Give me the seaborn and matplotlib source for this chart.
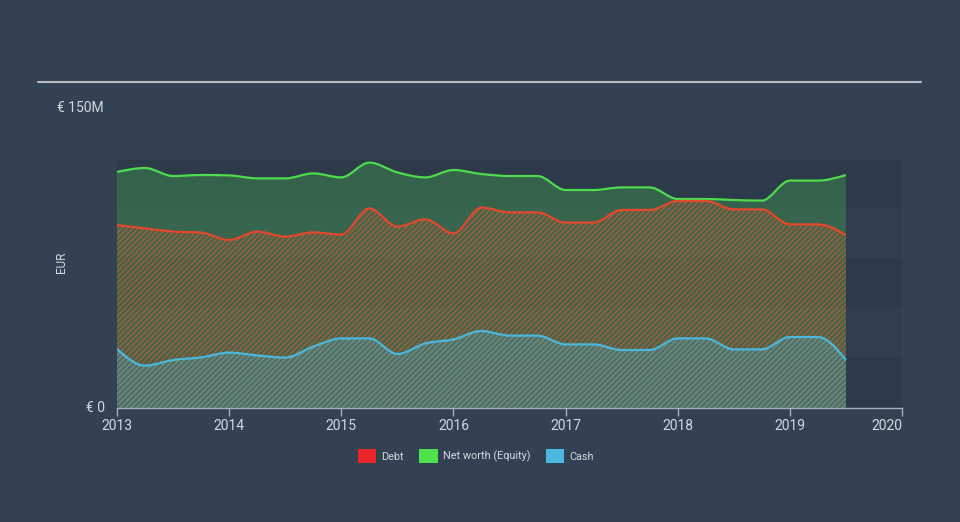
import numpy as np
import matplotlib
matplotlib.use('Agg')
import matplotlib.pyplot as plt
import seaborn as sns
from matplotlib.path import Path
from matplotlib.patches import PathPatch, Patch
from matplotlib.lines import Line2D
from matplotlib.transforms import blended_transform_factory

# Data (EUR millions), quarterly
dates = [2013.0, 2013.25, 2013.5, 2013.75, 2014.0, 2014.25, 2014.5, 2014.75,
         2015.0, 2015.25, 2015.5, 2015.75, 2016.0, 2016.25, 2016.5, 2016.75,
         2017.0, 2017.25, 2017.5, 2017.75, 2018.0, 2018.25, 2018.5, 2018.75,
         2019.0, 2019.25, 2019.5]
equity = [118.0, 120.0, 116.0, 116.5, 116.3, 114.8, 114.8, 117.3,
          115.3, 122.7, 117.8, 115.3, 119.0, 117.0, 116.0, 116.0,
          109.0, 109.0, 110.3, 110.3, 104.5, 104.5, 104.0, 103.7,
          113.7, 113.7, 116.5]
debt = [91.5, 89.8, 88.2, 87.7, 84.0, 88.2, 85.7, 87.8,
        86.7, 99.8, 90.7, 94.3, 87.3, 100.2, 97.8, 97.8,
        92.7, 92.7, 99.0, 99.0, 103.5, 103.5, 99.3, 99.3,
        91.8, 91.8, 86.5]
cash = [29.5, 21.2, 24.0, 25.3, 27.7, 26.3, 25.2, 30.7,
        34.8, 34.8, 27.0, 32.3, 34.3, 38.5, 36.2, 36.2,
        31.8, 31.8, 29.0, 29.0, 34.8, 34.8, 29.3, 29.3,
        35.5, 35.5, 24.0]
years = list(range(2013, 2021))
legend_labels = ['Debt', 'Net worth (Equity)', 'Cash']

BG = '#334253'
BAND_DARK = '#2d3a4a'
BAND_LIGHT = '#303e4f'
TXT = '#d3d8de'

sns.set_theme(style='dark', rc={'figure.facecolor': BG, 'axes.facecolor': BG,
                                'hatch.linewidth': 0.9})
plt.rcParams['font.family'] = ['Roboto', 'DejaVu Sans']


def monotone_path(x, y, close_to_zero=False):
    # cubic bezier segments like a monotone-x curve
    x = np.asarray(x, float)
    y = np.asarray(y, float)
    n = len(x)
    h = np.diff(x)
    s = np.diff(y) / h
    t = np.zeros(n)
    for i in range(1, n - 1):
        p = (s[i - 1] * h[i] + s[i] * h[i - 1]) / (h[i - 1] + h[i])
        t[i] = (np.sign(s[i - 1]) + np.sign(s[i])) * min(abs(s[i - 1]), abs(s[i]), 0.5 * abs(p))
    t[0] = (3 * s[0] - t[1]) / 2
    t[-1] = (3 * s[-1] - t[-2]) / 2
    verts = [(x[0], y[0])]
    codes = [Path.MOVETO]
    for i in range(n - 1):
        d = h[i] / 3
        verts += [(x[i] + d, y[i] + d * t[i]), (x[i + 1] - d, y[i + 1] - d * t[i + 1]), (x[i + 1], y[i + 1])]
        codes += [Path.CURVE4] * 3
    if close_to_zero:
        verts += [(x[-1], 0), (x[0], 0), (x[0], y[0])]
        codes += [Path.LINETO, Path.LINETO, Path.CLOSEPOLY]
    return Path(verts, codes)


fig = plt.figure(figsize=(9.6, 5.22), dpi=100)
ax = fig.add_axes([117 / 960, 114 / 522, 785 / 960, 248 / 522])
ax.set_xlim(2013, 2020)
ax.set_ylim(0, 124)

# background bands
for i, lo in enumerate(range(0, 125, 25)):
    ax.axhspan(lo, min(lo + 25, 124), color=BAND_DARK if i % 2 == 0 else BAND_LIGHT, lw=0, zorder=0)

c_debt, c_eq, c_cash = '#e5472c', '#4ddc4d', '#4ab8dc'

# areas
ax.add_patch(PathPatch(monotone_path(dates, equity, True), facecolor=c_eq, alpha=0.25, lw=0, zorder=1))
ax.add_patch(PathPatch(monotone_path(dates, debt, True), facecolor='#8a5a3a', alpha=0.25, lw=0, zorder=2))
ax.add_patch(PathPatch(monotone_path(dates, debt, True), facecolor='none', edgecolor='#d8643a',
                       hatch='//////', lw=0, alpha=0.6, zorder=2))
ax.add_patch(PathPatch(monotone_path(dates, cash, True), facecolor='#5b9aa8', alpha=0.3, lw=0, zorder=3))
ax.add_patch(PathPatch(monotone_path(dates, cash, True), facecolor='none', edgecolor='#5aa3b0',
                       hatch='//////', lw=0, alpha=0.55, zorder=3))

# lines
for vals, c in [(equity, c_eq), (debt, c_debt), (cash, c_cash)]:
    ax.add_patch(PathPatch(monotone_path(dates, vals), facecolor='none', edgecolor=c, lw=1.6, zorder=5))

# axes styling
for side in ['top', 'right', 'left']:
    ax.spines[side].set_visible(False)
ax.spines['bottom'].set_color('#a7b1bc')
ax.spines['bottom'].set_linewidth(1.0)
ax.set_xticks(years)
ax.set_xticklabels([str(y) for y in years])
ax.get_xticklabels()[-1].set_horizontalalignment('right')
ax.tick_params(axis='x', colors='#a7b1bc', labelcolor=TXT, labelsize=10, length=6, width=1, direction='out', pad=2)
ax.tick_params(axis='x', which='both', bottom=True)
ax.set_yticks([])
ax.grid(False)

tr = blended_transform_factory(ax.transAxes, ax.transData)
ax.text(-0.015, 0, '€ 0', transform=tr, ha='right', va='center', color=TXT, fontsize=10, clip_on=False)
ax.text(-0.076, 150, '€ 150M', transform=tr, ha='left', va='center', color=TXT, fontsize=10, clip_on=False)
fig.text(61 / 960, 1 - 262 / 522, 'EUR', rotation=90, ha='center', va='center', color=TXT, fontsize=8.5)

# top rule
fig.add_artist(Line2D([38 / 960, 921 / 960], [1 - 82 / 522] * 2, color='#b9bdc3', lw=1.5))

handles = [Patch(facecolor=c, edgecolor='none') for c in ['#e8262a', '#4de34d', '#4ab8dc']]
leg = fig.legend(handles, legend_labels, loc='center', bbox_to_anchor=(476 / 960, 1 - 456 / 522),
                 ncol=3, frameon=False, fontsize=7.8, handlelength=1.7, handleheight=1.5,
                 columnspacing=1.4, handletextpad=0.5)
for t in leg.get_texts():
    t.set_color(TXT)

fig.savefig('out.png', dpi=100, facecolor=BG)
